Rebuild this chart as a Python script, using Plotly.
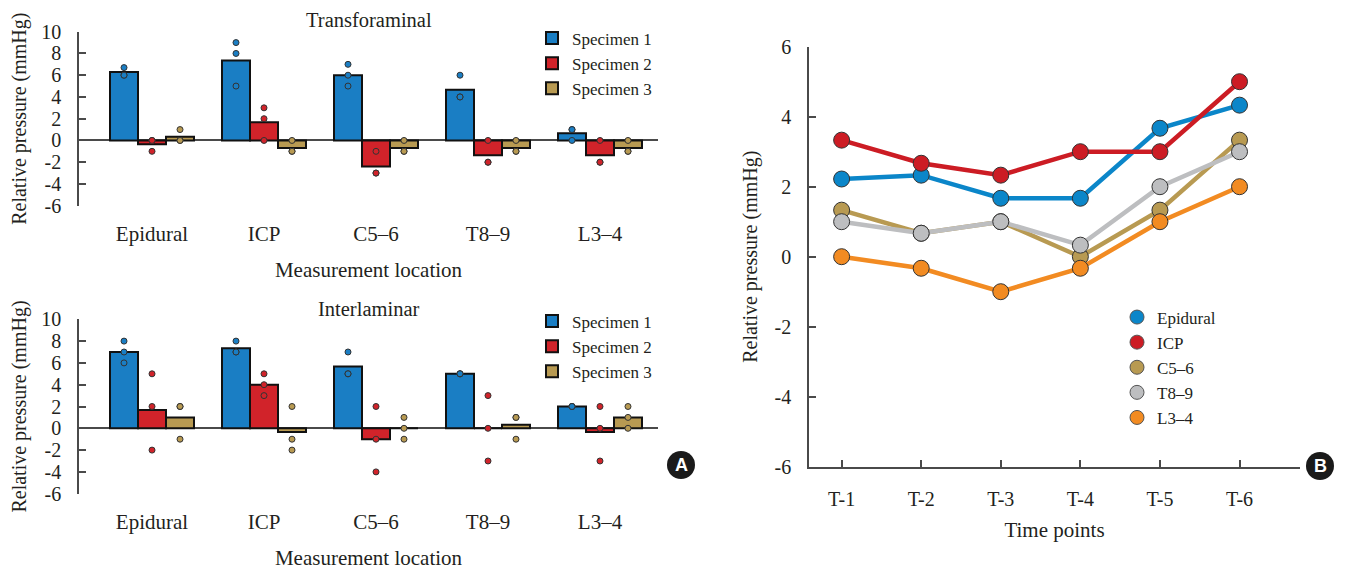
import plotly.graph_objects as go

# ---------------- data ----------------
locations = ["Epidural", "ICP", "C5–6", "T8–9", "L3–4"]
specimens = ["Specimen 1", "Specimen 2", "Specimen 3"]
y_tick_vals = [-6, -4, -2, 0, 2, 4, 6, 8, 10]
y_tick_text = ["-6", "-4", "-2", "0", "2", "4", "6", "8", "10"]

# Transforaminal: bar means and individual measurements
tf_bar_s1 = [6.3, 7.35, 6.0, 4.67, 0.67]
tf_bar_s2 = [-0.35, 1.67, -2.4, -1.35, -1.35]
tf_bar_s3 = [0.35, -0.7, -0.7, -0.7, -0.7]
tf_pts_s1 = [[6.7, 6, 6], [9, 8, 5], [7, 6, 5], [6, 4, 4], [1, 1, 0]]
tf_pts_s2 = [[0, -1, 0], [3, 2, 0], [-1, -3, -3], [0, -2, -2], [0, -2, -2]]
tf_pts_s3 = [[1, 0, 0], [0, -1, -1], [0, -1, -1], [0, -1, -1], [0, -1, -1]]

# Interlaminar: bar means and individual measurements
il_bar_s1 = [7.0, 7.35, 5.67, 5.0, 2.0]
il_bar_s2 = [1.67, 4.0, -1.0, 0.0, -0.35]
il_bar_s3 = [1.0, -0.35, 0.0, 0.33, 1.0]
il_pts_s1 = [[8, 7, 6], [8, 7, 7], [7, 5, 5], [5, 5, 5], [2, 2, 2]]
il_pts_s2 = [[5, 2, -2], [5, 4, 3], [2, -1, -4], [3, 0, -3], [2, 0, -3]]
il_pts_s3 = [[2, 2, -1], [2, -1, -2], [1, 0, -1], [1, 1, -1], [2, 1, 0]]

# Panel B: relative pressure over time points
time_points = ["T-1", "T-2", "T-3", "T-4", "T-5", "T-6"]
series_names = ["Epidural", "ICP", "C5–6", "T8–9", "L3–4"]
epidural = [2.22, 2.33, 1.67, 1.67, 3.67, 4.33]
icp = [3.33, 2.67, 2.33, 3.0, 3.0, 5.0]
c5_6 = [1.33, 0.67, 1.0, 0.0, 1.33, 3.33]
t8_9 = [1.0, 0.67, 1.0, 0.33, 2.0, 3.0]
l3_4 = [0.0, -0.33, -1.0, -0.33, 1.0, 2.0]
b_tick_vals = [-6, -4, -2, 0, 2, 4, 6]
b_tick_text = ["-6", "-4", "-2", "0", "2", "4", "6"]

# ---------------- styles ----------------
spec_colors = ["#1A7EC4", "#D1232A", "#B89A52"]
line_colors = ["#0B86C9", "#CC1C24", "#B89A52", "#BDBEC0", "#F28B22"]
FONT = "Liberation Serif"
TXT = "#231F20"
AX = "#4a4a4a"

fig = go.Figure()


def add_bar_panel(bars, points, xa, ya, legend):
    for k in range(3):
        fig.add_trace(go.Bar(
            x=locations, y=bars[k], name=specimens[k],
            marker=dict(color=spec_colors[k], line=dict(color="#111111", width=2)),
            offsetgroup=str(k), xaxis=xa, yaxis=ya, legend=legend,
        ))
    for k in range(3):
        xs, ys = [], []
        for loc, vals in zip(locations, points[k]):
            for v in vals:
                xs.append(loc)
                ys.append(v)
        fig.add_trace(go.Scatter(
            x=xs, y=ys, mode="markers", showlegend=False,
            marker=dict(size=6, color=spec_colors[k], line=dict(color="#333333", width=1)),
            offsetgroup=str(k), xaxis=xa, yaxis=ya,
        ))


add_bar_panel([tf_bar_s1, tf_bar_s2, tf_bar_s3], [tf_pts_s1, tf_pts_s2, tf_pts_s3], "x", "y", "legend")
add_bar_panel([il_bar_s1, il_bar_s2, il_bar_s3], [il_pts_s1, il_pts_s2, il_pts_s3], "x2", "y2", "legend2")

for name, vals, col in zip(series_names, [epidural, icp, c5_6, t8_9, l3_4], line_colors):
    fig.add_trace(go.Scatter(
        x=time_points, y=vals, mode="lines+markers", name=name, showlegend=False,
        line=dict(color=col, width=4.5),
        marker=dict(size=16, color=col, line=dict(color="#333333", width=1)),
        offsetgroup="b", xaxis="x3", yaxis="y3",
    ))
    fig.add_trace(go.Scatter(
        x=[None], y=[None], mode="markers", name=name, legend="legend3",
        marker=dict(size=14, color=col, line=dict(color="#555555", width=1)),
        offsetgroup="b", xaxis="x3", yaxis="y3",
    ))

W, H = 1346, 570


def px(x):
    return x / W


def py(y):
    return 1 - y / H


bar_x = dict(type="category", range=[-0.652, 4.518], showline=False, ticks="",
             showgrid=False, zeroline=False, tickfont=dict(size=21),
             ticklabelstandoff=13,
             title=dict(text="Measurement location", font=dict(size=21), standoff=17))
bar_y = dict(range=[-6, 10], tickvals=y_tick_vals, ticktext=y_tick_text, showgrid=False,
             showline=True, linecolor=AX, linewidth=1.5, ticks="inside", ticklen=7,
             tickcolor=AX, tickwidth=1.5, zeroline=True, zerolinecolor=AX, zerolinewidth=1.5,
             tickfont=dict(size=20), ticklabelstandoff=12,
             title=dict(text="Relative pressure (mmHg)", font=dict(size=20), standoff=9))

fig.update_layout(
    width=W, height=H, margin=dict(l=0, r=0, t=0, b=0, autoexpand=False),
    paper_bgcolor="white", plot_bgcolor="rgba(0,0,0,0)",
    font=dict(family=FONT, size=18, color=TXT),
    barmode="group", bargap=0.25, bargroupgap=0,
    scattermode="group", scattergap=0.25,
    xaxis=dict(domain=[px(79), px(658)], anchor="y", **bar_x),
    yaxis=dict(domain=[py(205.7), py(31.7)], anchor="x", **bar_y),
    xaxis2=dict(domain=[px(79), px(658)], anchor="y2", **bar_x),
    yaxis2=dict(domain=[py(493.7), py(319.3)], anchor="x2", **bar_y),
    xaxis3=dict(domain=[px(809), px(1300)], anchor="y3", type="category",
                range=[-0.41, 5.76], showgrid=False, zeroline=False,
                showline=True, linecolor=AX, linewidth=1.5,
                ticks="inside", ticklen=7, tickcolor=AX, tickwidth=1.5,
                tickfont=dict(size=20), ticklabelstandoff=14,
                title=dict(text="Time points", font=dict(size=21), standoff=13)),
    yaxis3=dict(domain=[py(466.7), py(46.7)], anchor="x3", range=[-6, 6],
                tickvals=b_tick_vals, ticktext=b_tick_text, showgrid=False, zeroline=False,
                showline=True, linecolor=AX, linewidth=1.5,
                ticks="inside", ticklen=7, tickcolor=AX, tickwidth=1.5,
                tickfont=dict(size=20), ticklabelstandoff=12,
                title=dict(text="Relative pressure (mmHg)", font=dict(size=20), standoff=12)),
    legend=dict(x=px(532), y=py(20.5), xanchor="left", yanchor="top",
                bgcolor="rgba(0,0,0,0)", font=dict(size=17), tracegroupgap=0),
    legend2=dict(x=px(532), y=py(303.5), xanchor="left", yanchor="top",
                 bgcolor="rgba(0,0,0,0)", font=dict(size=17), tracegroupgap=0),
    legend3=dict(x=px(1117), y=py(299.5), xanchor="left", yanchor="top",
                 bgcolor="rgba(0,0,0,0)", font=dict(size=17), tracegroupgap=0),
    annotations=[
        dict(text="Transforaminal", xref="x domain", yref="paper", x=0.5, y=py(20),
             showarrow=False, font=dict(size=20.5), xanchor="center", yanchor="middle"),
        dict(text="Interlaminar", xref="x2 domain", yref="paper", x=0.5, y=py(309),
             showarrow=False, font=dict(size=20.5), xanchor="center", yanchor="middle"),
        dict(text="<b>A</b>", xref="paper", yref="paper", x=px(681), y=py(465),
             showarrow=False, font=dict(size=18, color="white", family="Liberation Sans"),
             xanchor="center", yanchor="middle"),
        dict(text="<b>B</b>", xref="paper", yref="paper", x=px(1320), y=py(466),
             showarrow=False, font=dict(size=18, color="white", family="Liberation Sans"),
             xanchor="center", yanchor="middle"),
    ],
    shapes=[
        dict(type="circle", xref="paper", yref="paper", x0=px(667), x1=px(695),
             y0=py(479), y1=py(451), fillcolor="#1a1a1a", line=dict(width=0)),
        dict(type="circle", xref="paper", yref="paper", x0=px(1306), x1=px(1334),
             y0=py(480), y1=py(452), fillcolor="#1a1a1a", line=dict(width=0)),
    ],
)

fig.write_html(
    "out.html",
    config={"displayModeBar": False},
    post_script="document.body.style.margin='0';document.body.style.overflow='hidden';",
)
